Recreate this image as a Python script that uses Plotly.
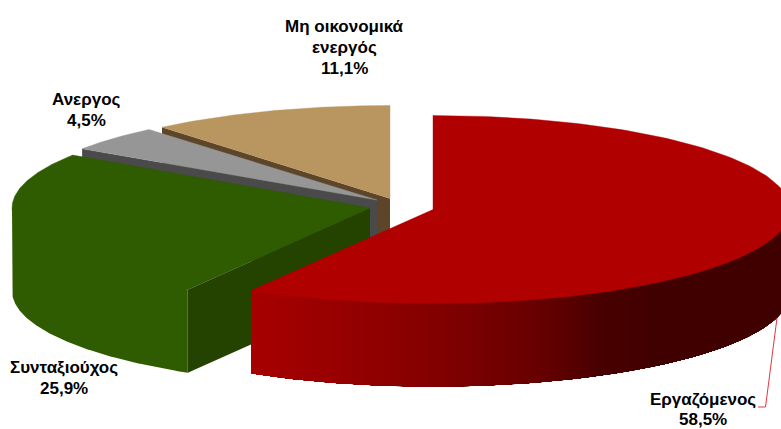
import numpy as np
import plotly.graph_objects as go

categories = ["Εργαζόμενος", "Συνταξιούχος", "Ανεργος", "Μη οικονομικά<br>ενεργός"]
values = [58.5, 25.9, 4.5, 11.1]

# Drawing style and pie geometry (pixels on a 781x429 canvas)
top_colors = ["#B00000", "#2F5C00", "#969696", "#B99660"]
wall_colors = ["#5A0000", "#244200", "#4A4A4A", "#5C4529"]
centers = [(433, 209.5), (370, 208), (377, 200), (390, 198.5)]
radii = [(357, 94), (358, 95), (355, 92), (355, 93)]
DEPTH = 83
label_pos = [(703, 399), (64, 367), (86, 99), (344, 26)]
line_steps = [20, 21, 21, 21]
red_stops_x = [250, 340, 420, 480, 540, 580, 600, 650, 781]
red_stops_rgb = [(168, 0, 0), (152, 0, 0), (136, 0, 0), (120, 0, 0), (104, 0, 0), (86, 0, 0),
                 (74, 0, 0), (66, 0, 0), (64, 0, 0)]

fracs = np.array(values) / sum(values)
edges = np.concatenate([[0], np.cumsum(fracs)]) * 2 * np.pi


def rim(i, a0, a1, n=160):
    t = np.linspace(a0, a1, n)
    cx, cy = centers[i]
    a, b = radii[i]
    return cx + a * np.sin(t), cy - b * np.cos(t)


def tuck(a0, a1, cut, n):
    """Upward overlap of a rim under its top face, fading out at the cut edge."""
    t = np.linspace(a0, a1, n)
    return 3 * np.clip(np.abs(t - cut) / 0.06, 0, 1)


fig = go.Figure()


def poly(xs, ys, color, lw=0):
    fig.add_trace(go.Scatter(
        x=list(xs) + [xs[0]], y=list(ys) + [ys[0]], mode="lines", fill="toself",
        fillcolor=color, line=dict(color=color, width=lw), hoverinfo="skip", showlegend=False,
    ))


# Painter's order: back slices first
for i in [3, 2, 1, 0]:
    a0, a1 = edges[i], edges[i + 1]
    cx, cy = centers[i]
    # flat cut wall along the leading radial edge of the slice
    if i in (1, 2, 3):
        x, y = rim(i, a0, a0, 1)
        poly([x[0], cx, cx, x[0]], [y[0], cy, cy + DEPTH, y[0] + DEPTH], wall_colors[i])
    # outer rim (visible where it faces the viewer); upper edge tucked under the top face
    lo, hi = max(a0, np.pi / 2), min(a1, 3 * np.pi / 2)
    if hi > lo:
        if i == 0:
            # the rim runs right-to-left in angle; each step repaints from the left end
            # towards its own angle, so neighbouring steps leave no seams
            steps = np.linspace(lo, hi, 110)
            for s0 in steps[:-1]:
                x, y = rim(i, s0, hi, 120)
                off = tuck(s0, hi, a1, 120)
                mid = rim(i, s0, s0, 1)[0][0]
                rgb = [int(np.interp(mid, red_stops_x, [c[k] for c in red_stops_rgb])) for k in range(3)]
                poly(list(x) + list(x[::-1]), list(y - off) + list(y[::-1] + DEPTH), "rgb(%d,%d,%d)" % tuple(rgb))
        else:
            x, y = rim(i, lo, hi)
            off = tuck(lo, hi, a0, 160)
            poly(list(x) + list(x[::-1]), list(y - off) + list(y[::-1] + DEPTH), top_colors[i])
    # top face
    x, y = rim(i, a0, a1)
    poly(list(x) + [cx], list(y) + [cy], top_colors[i], 0.4)

# Leader line of the first label
fig.add_trace(go.Scatter(x=[777, 765.5, 758], y=[318, 407, 407], mode="lines",
                         line=dict(color="#E8343C", width=1), hoverinfo="skip", showlegend=False))

for name, v, (lx, ly), step in zip(categories, values, label_pos, line_steps):
    pct = f"{v:.1f}".replace(".", ",") + "%"
    for k, line in enumerate(name.split("<br>") + [pct]):
        fig.add_annotation(x=lx, y=ly + k * step, xref="x", yref="y", text=f"<b>{line}</b>", showarrow=False,
                           align="center", xanchor="center", yanchor="middle",
                           font=dict(family="Liberation Sans", size=17, color="black"))

fig.update_layout(
    width=781, height=429, margin=dict(l=0, r=0, t=0, b=0),
    paper_bgcolor="white", plot_bgcolor="white", showlegend=False,
    xaxis=dict(range=[0, 781], visible=False, fixedrange=True),
    yaxis=dict(range=[429, 0], visible=False, fixedrange=True),
)
fig.write_html("out.html", config={"displayModeBar": False},
               post_script="document.body.style.margin='0';document.body.style.overflow='hidden';")
